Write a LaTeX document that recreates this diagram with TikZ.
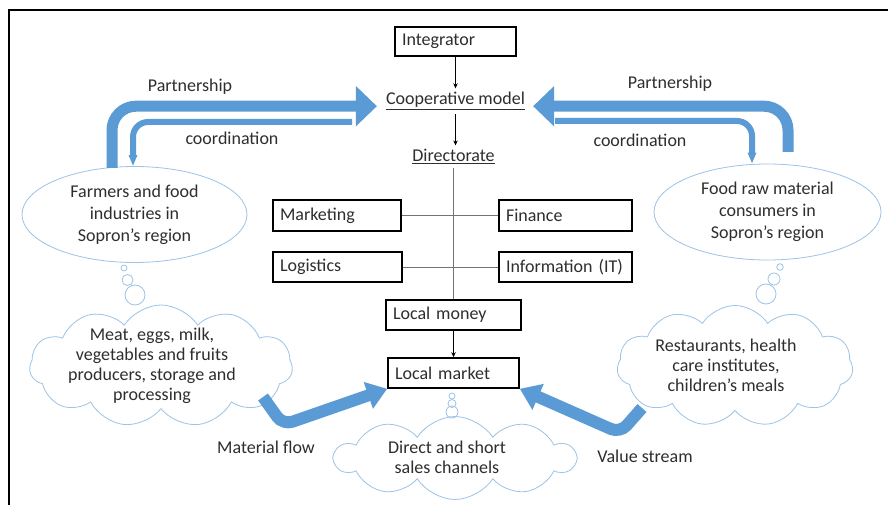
\documentclass[tikz,border=0pt]{standalone}
\usepackage{fontspec}
\setmainfont{Carlito}
\usetikzlibrary{shapes.geometric,shapes.symbols,arrows.meta,calc}
\definecolor{bl}{HTML}{5B9BD5}
\definecolor{lb}{HTML}{9DC3E6}
\definecolor{tx}{HTML}{2E2E2E}
\begin{document}
\begin{tikzpicture}[x=1pt,y=-1pt,
  font=\fontsize{18}{22}\selectfont, text=tx,
  box/.style={draw=black, line width=1.6pt, rectangle, minimum height=30pt,
    inner xsep=7pt, inner ysep=0pt, align=left},
  plain/.style={inner sep=4pt},
  oval/.style={ellipse, draw=lb, line width=0.8pt, inner sep=0pt, align=center},
  puff/.style={cloud, draw=lb, line width=0.8pt, cloud ignores aspect, cloud puffs=11, cloud puff arc=115},
  cloudtxt/.style={align=center, font=\fontsize{18}{20}\selectfont},
  bub/.style={draw=lb, line width=0.8pt},
  thin/.style={draw=black!55, line width=0.7pt},
  small/.style={draw=black, line width=0.7pt, -{Stealth[length=5pt,width=4.5pt]}},
  fat/.style={draw=bl, line width=11pt, rounded corners=24pt, -{Triangle[width=39pt,length=21pt]}},
  slim/.style={draw=bl, line width=6pt, rounded corners=15pt, -{Triangle[width=8pt,length=11pt]}},
  flow/.style={draw=bl, line width=12pt, rounded corners=10pt, -{Triangle[width=27pt,length=20pt]}}
]
\useasboundingbox (0,0) rectangle (888,505);
\fill[white] (0,0) rectangle (888,505);
% frame
\draw[line width=2.5pt] (9,505) -- (9,10) -- (888,10);

% central column
\node[box, text width=107pt, minimum height=29pt] (integ) at (455.5,41.5) {Integrator};
\node[plain, anchor=base] (coop) at (455.5,105) {\underline{Cooperative model}};
\node[plain, anchor=base] (dir) at (453.5,162) {\underline{Directorate}};
\node[box, text width=114pt, minimum height=31pt] (mkt) at (337,215.5) {Marketing};
\node[box, text width=119pt, minimum height=31pt] (fin) at (565.5,215.5) {Finance};
\node[box, text width=115pt] (logi) at (337.5,267) {Logistics};
\node[box, text width=119pt] (it) at (565.5,267) {Information (IT)};
\node[box, text width=121pt] (lmon) at (453.5,315) {Local money};
\node[box, text width=117pt] (lmkt) at (453.5,373) {Local market};

\draw[small] (integ.south) -- (integ.south |- coop.north);
\draw[small] (integ.south |- coop.south) -- (integ.south |- dir.north);
\draw[thin] (dir.south) -- (dir.south |- lmon.north);
\draw[thin] (mkt.east) -- (fin.west);
\draw[thin] (logi.east) -- (it.west);
\draw[small] (lmon.south) -- (lmkt.north);

% ellipses
\node[oval, minimum width=225pt, minimum height=96pt] (farm) at (134.5,214.5)
  {Farmers and food\\industries in\\Sopron’s region};
\node[oval, minimum width=227pt, minimum height=96pt] (cons) at (767.5,212)
  {Food raw material\\consumers in\\Sopron’s region};

% thought bubbles
\draw[bub] (124,268) circle [radius=3pt];
\draw[bub] (127.5,280) circle [radius=5.5pt];
\draw[bub] (135,295) circle [radius=10pt];
\draw[bub] (780,267) circle [radius=3.3pt];
\draw[bub] (774,279) circle [radius=6pt];
\draw[bub] (766,294) circle [radius=10pt];
\draw[bub] (452,396) circle [radius=3pt];
\draw[bub] (452,403.5) circle [radius=4pt];
\draw[bub] (452,412) circle [radius=6pt];

% clouds
\node[puff, minimum width=263pt, minimum height=122pt] (lcl) at (161,366) {};
\node[cloudtxt] (lclt) at (152,366) {Meat, eggs, milk,\\vegetables and fruits\\producers, storage and\\processing};
\node[puff, minimum width=236pt, minimum height=121pt] (rcl) at (735,366) {};
\node[cloudtxt] (rclt) at (726,365.5) {Restaurants, health\\care institutes,\\children’s meals};
\node[puff, cloud puffs=10, minimum width=240pt, minimum height=83pt] (ccl) at (455,458) {};
\node[cloudtxt] (cclt) at (447,457.5) {Direct and short\\sales channels};

% big blue arrows
\coordinate (p1) at (112,168);
\coordinate (c1) at (352,122);
\coordinate (p2) at (788,152);
\coordinate (c2) at (555,121);
\draw[fat] (p1) |- ([xshift=-5pt,yshift=-5pt]coop.west);
\draw[slim] (c1) -| ([xshift=-1.5pt]farm.north);
\draw[fat] (p2) |- ([xshift=4pt,yshift=-5pt]coop.east);
\draw[slim] (c2) -| ([xshift=-15.5pt]cons.north);

\coordinate (m1) at (263,397);
\coordinate (m2) at (283,425);
\draw[flow] (m1) -- (m2) -- (lmkt.south west);
\coordinate (v1) at (642,408);
\coordinate (v2) at (620,433);
\draw[flow] (v1) -- (v2) -- (lmkt.south east);

% labels
\node (lp) at (190,87) {Partnership};
\node (lc) at (232,138) {coordination};
\node (rp) at (670,84) {Partnership};
\node (rc) at (640,140) {coordination};
\node (mf) at (266,447) {Material flow};
\node (vs) at (645,456) {Value stream};
\end{tikzpicture}
\end{document}
